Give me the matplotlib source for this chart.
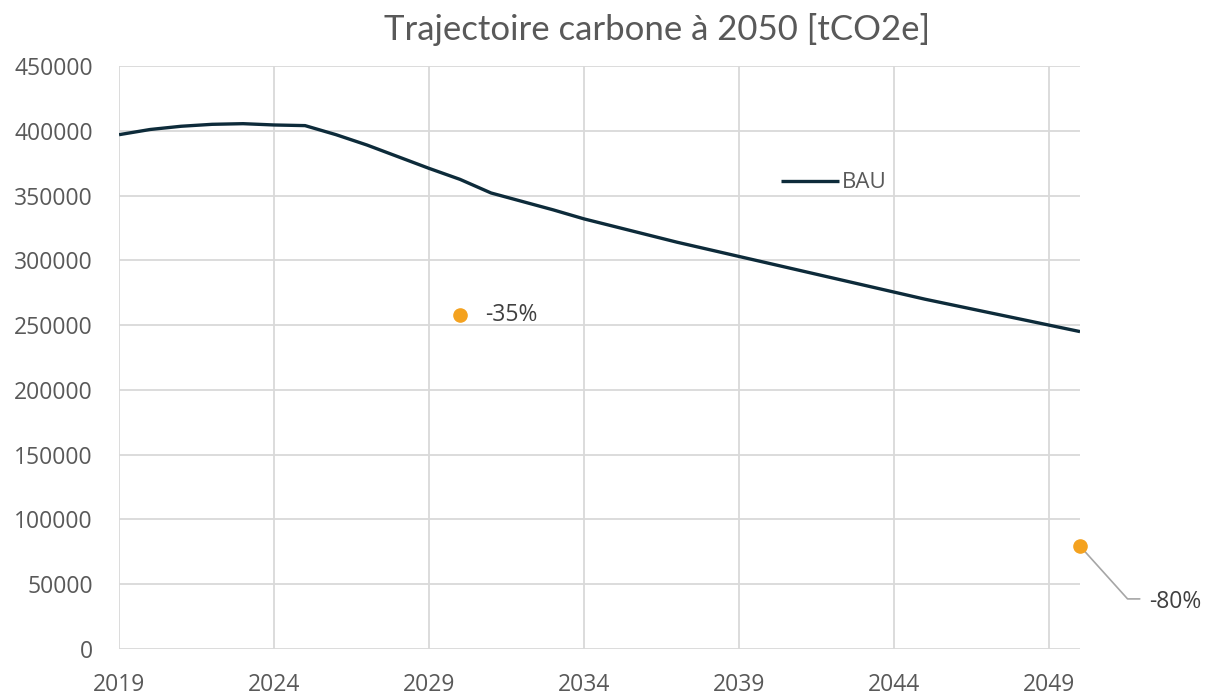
import numpy as np
from matplotlib import pyplot as plt

# BAU trajectory (tCO2e per year)
years = np.arange(2019, 2051)
bau = [397000, 401000, 403500, 405000, 405500, 404500, 404000, 397000,
       389000, 380000, 371000, 362500, 352000, 345500, 339000, 332000,
       326000, 320000, 314000, 308500, 303000, 297500, 292000, 286500,
       281000, 275500, 270000, 265000, 260000, 255000, 250000, 245000]

# targets
target_years = [2030, 2050]
target_values = [258000, 79400]
target_labels = ['-35%', '-80%']

xticks = [2019, 2024, 2029, 2034, 2039, 2044, 2049]
yticks = np.arange(0, 450001, 50000)

grey = '#595959'
grid = '#d9d9d9'

fig = plt.figure(figsize=(12.05, 6.95), dpi=100)
ax = fig.add_axes([0.0988, 0.0662, 0.7975, 0.8388])

ax.plot(years, bau, color='#0d2b3a', lw=2.4, label='BAU', zorder=3,
        solid_capstyle='butt')
ax.plot(target_years, target_values, 'o', color='#f4a21f', ms=9.5,
        zorder=4, clip_on=False)

# labels on the targets
ax.annotate(target_labels[0], (target_years[0], target_values[0]),
            xytext=(18, 0), textcoords='offset points', va='center',
            ha='left', fontsize=16.5, color='#404040', family='Open Sans')
ax.annotate(target_labels[1], (target_years[1], target_values[1]),
            xytext=(50, -40), textcoords='offset points', va='center',
            ha='left', fontsize=16.5, color='#404040', family='Open Sans',
            annotation_clip=False)
# leader line for -80%
ax.annotate('', xy=(target_years[1], target_values[1]),
            xytext=(43, -38), textcoords='offset points',
            arrowprops=dict(arrowstyle='-', color='#a6a6a6', lw=1.2,
                            shrinkA=0, shrinkB=0,
                            connectionstyle='angle,angleA=0,angleB=-48,rad=0'),
            annotation_clip=False)

ax.set_xlim(2019, 2050)
ax.set_ylim(0, 450000)
ax.set_xticks(xticks)
ax.set_yticks(yticks)
ax.grid(True, color=grid, lw=1.3)
ax.set_axisbelow(True)
for s in ax.spines.values():
    s.set_visible(False)
ax.tick_params(length=0, labelsize=16.5, labelcolor=grey)
ax.tick_params(axis='x', pad=17)
ax.tick_params(axis='y', pad=19)
for lab in ax.get_xticklabels() + ax.get_yticklabels():
    lab.set_family('Open Sans')

leg = ax.legend(loc='upper left', bbox_to_anchor=(0.668, 0.852), frameon=False,
                handlelength=2.6, handletextpad=0.15, fontsize=16)
for t in leg.get_texts():
    t.set_color(grey)
    t.set_family('Open Sans')

fig.text(0.545, 0.957, 'Trajectoire carbone à 2050 [tCO2e]', ha='center',
         va='center', fontsize=25, color=grey, family='Lato')

fig.savefig('out.png', dpi=100)
